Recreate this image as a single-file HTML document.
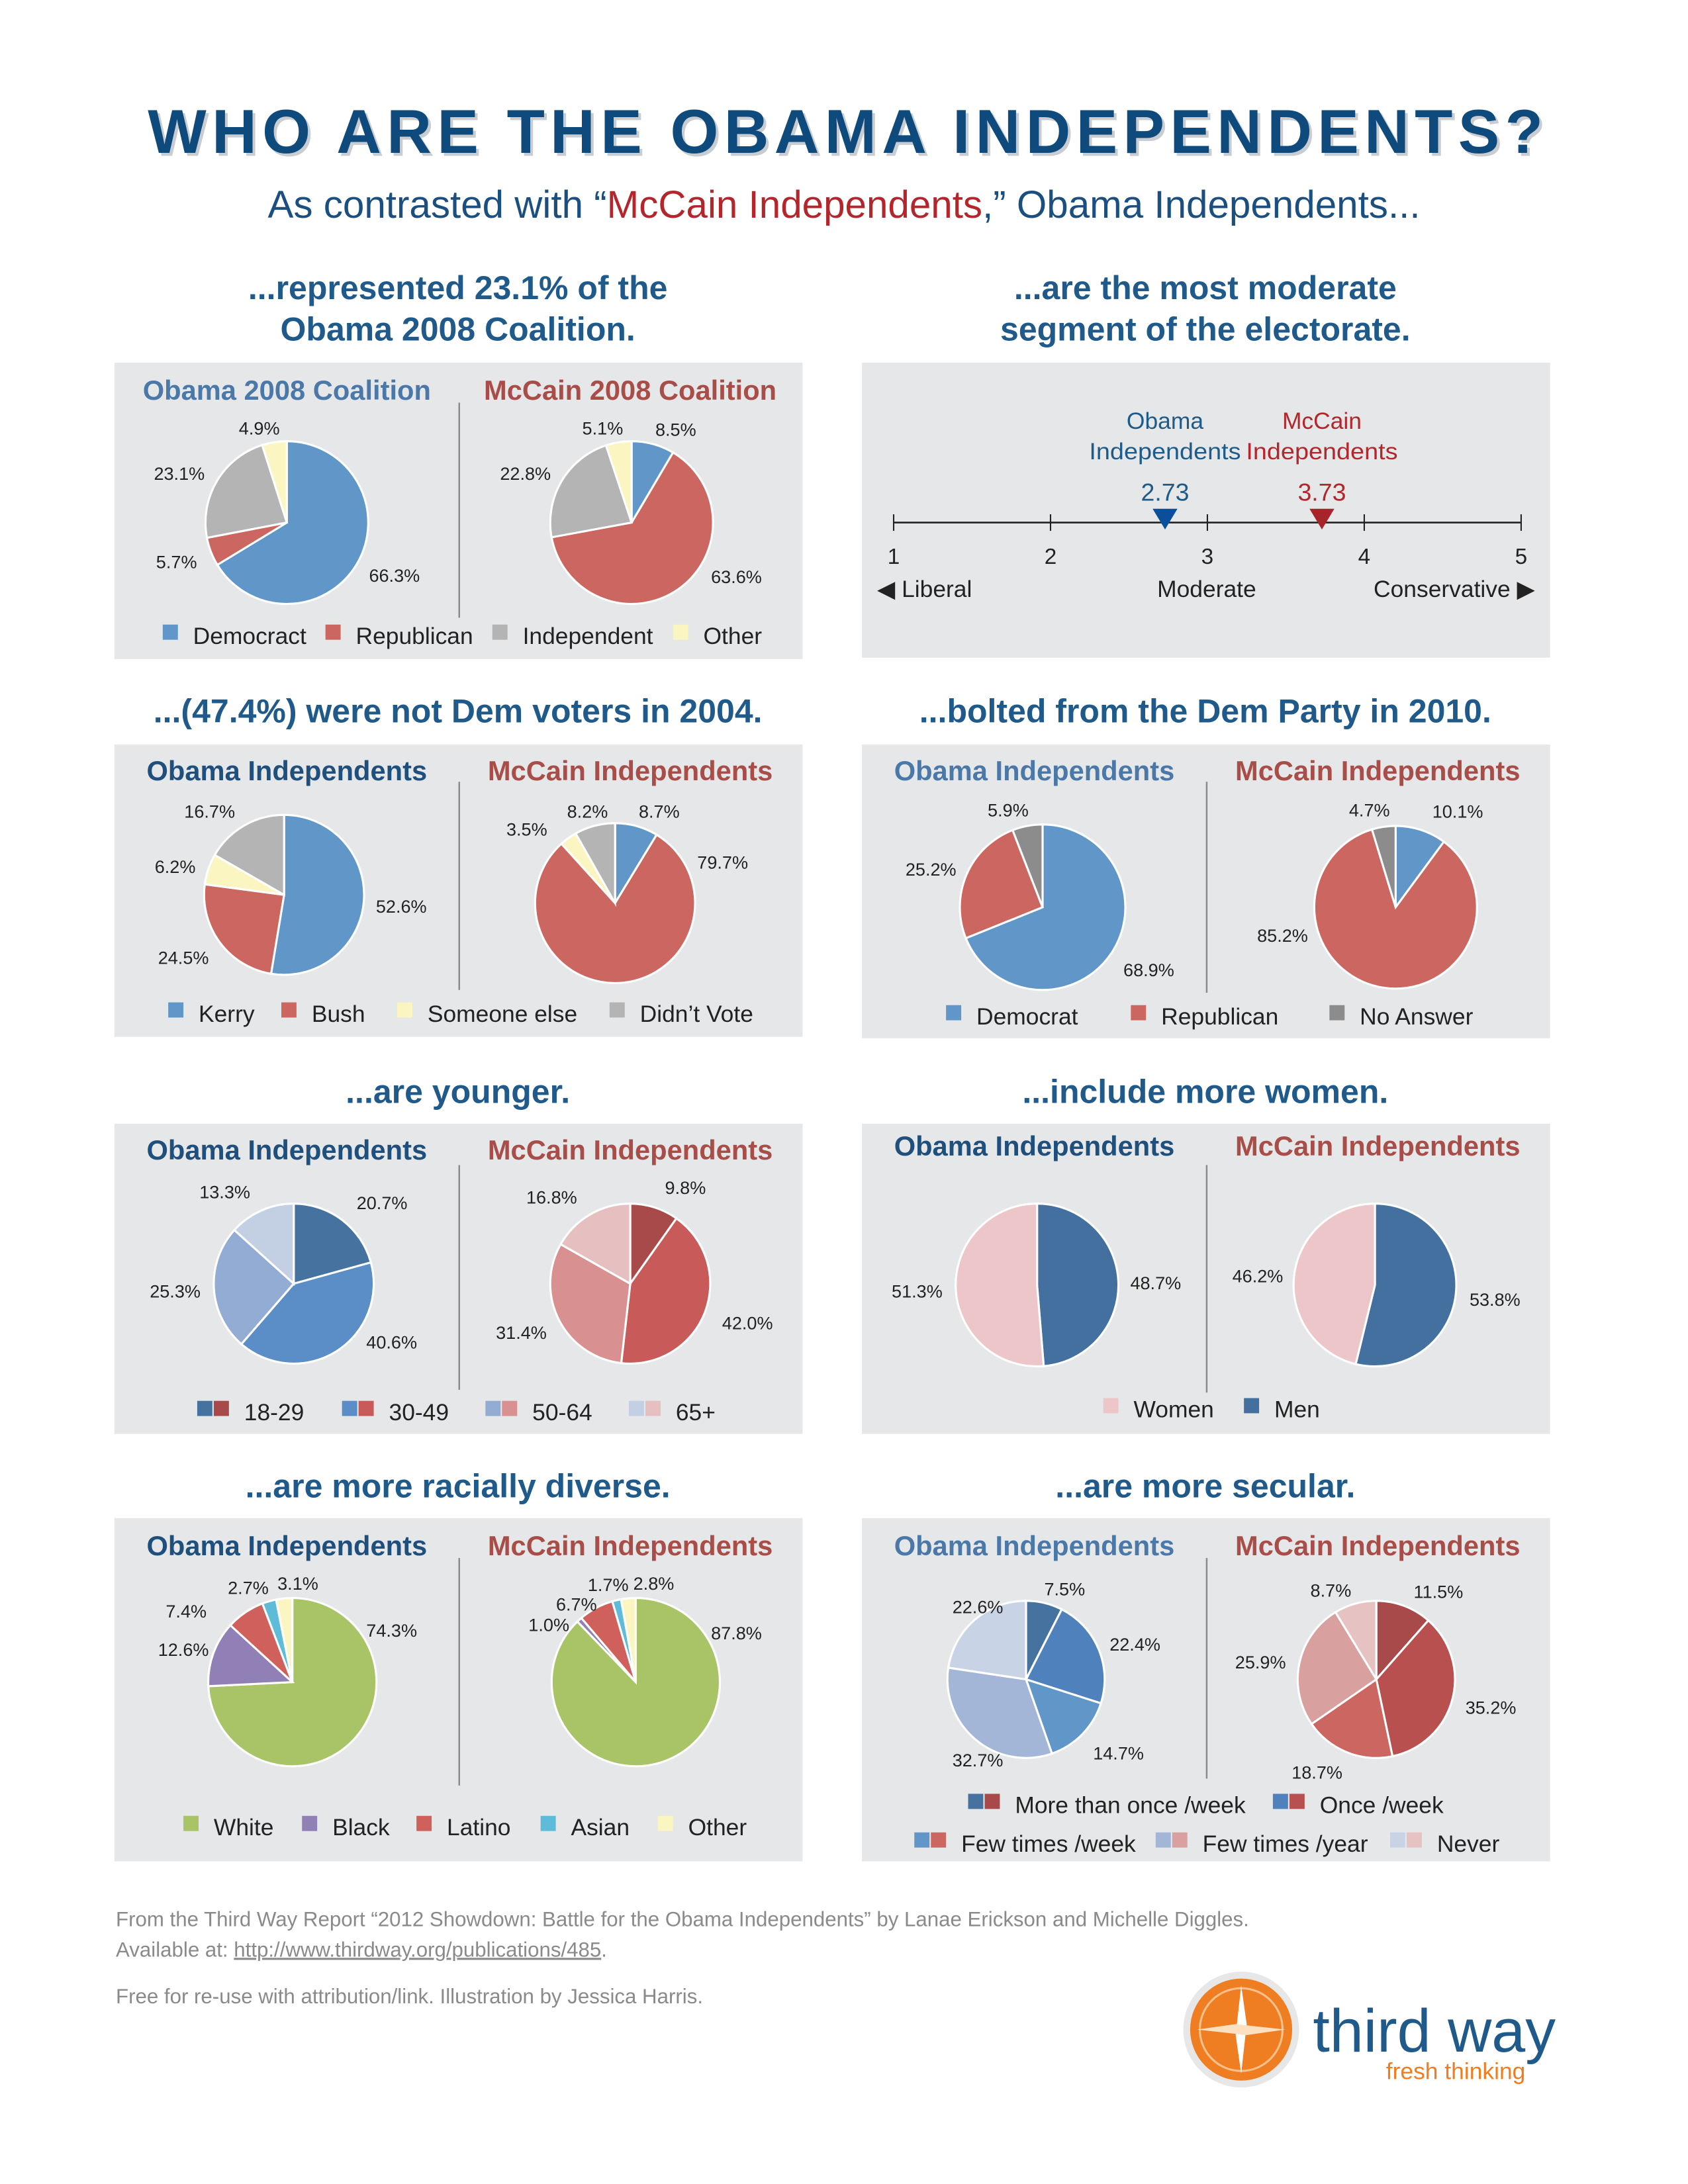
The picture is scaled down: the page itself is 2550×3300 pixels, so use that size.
<!DOCTYPE html>
<html><head><meta charset="utf-8">
<style>
html,body{margin:0;padding:0;background:#fff;}
svg{display:block;}
text{font-family:"Liberation Sans",sans-serif;}
</style></head>
<body>
<svg id="page" width="2550" height="3300" viewBox="0 0 1224 1584" xmlns="http://www.w3.org/2000/svg">
<rect width="1224" height="1584" fill="#fff"/>
<text x="617" y="113" text-anchor="middle" font-size="45" font-weight="bold" fill="#c9cdd2" letter-spacing="4">WHO ARE THE OBAMA INDEPENDENTS?</text>
<text x="615" y="111" text-anchor="middle" font-size="45" font-weight="bold" fill="#0e4a7b" letter-spacing="4">WHO ARE THE OBAMA INDEPENDENTS?</text>
<text x="612" y="158" text-anchor="middle" font-size="28" fill="#1a4f80">As contrasted with “<tspan fill="#b3262c">McCain Independents</tspan>,” Obama Independents...</text>

<g font-size="24" font-weight="bold" fill="#1f5a8a" text-anchor="middle">
<text x="332" y="217">...represented 23.1% of the</text>
<text x="332" y="247">Obama 2008 Coalition.</text>
<text x="874" y="217">...are the most moderate</text>
<text x="874" y="247">segment of the electorate.</text>
<text x="332" y="524">...(47.4%) were not Dem voters in 2004.</text>
<text x="874" y="524">...bolted from the Dem Party in 2010.</text>
<text x="332" y="800">...are younger.</text>
<text x="874" y="800">...include more women.</text>
<text x="332" y="1086">...are more racially diverse.</text>
<text x="874" y="1086">...are more secular.</text>
</g>

<g fill="#e6e7e8">
<rect x="83" y="263" width="499" height="215"/>
<rect x="625" y="263" width="499" height="214"/>
<rect x="83" y="540" width="499" height="212"/>
<rect x="625" y="540" width="499" height="213"/>
<rect x="83" y="815" width="499" height="225"/>
<rect x="625" y="815" width="499" height="225"/>
<rect x="83" y="1101" width="499" height="249"/>
<rect x="625" y="1101" width="499" height="249"/>
</g>
<g stroke="#8a8c8e" stroke-width="1.2">
<line x1="333" y1="292" x2="333" y2="448"/>
<line x1="333" y1="567" x2="333" y2="718"/>
<line x1="875" y1="567" x2="875" y2="720"/>
<line x1="333" y1="845" x2="333" y2="1008"/>
<line x1="875" y1="845" x2="875" y2="1010"/>
<line x1="333" y1="1130" x2="333" y2="1295"/>
<line x1="875" y1="1130" x2="875" y2="1290"/>
</g>

<g font-size="20" font-weight="bold" text-anchor="middle">
<text x="208" y="290" fill="#4a78a8">Obama 2008 Coalition</text>
<text x="457" y="290" fill="#a94d48">McCain 2008 Coalition</text>
<text x="208" y="566" fill="#1f4f7d">Obama Independents</text>
<text x="457" y="566" fill="#a94d48">McCain Independents</text>
<text x="750" y="566" fill="#4a78a8">Obama Independents</text>
<text x="999" y="566" fill="#a94d48">McCain Independents</text>
<text x="208" y="841" fill="#1f4f7d">Obama Independents</text>
<text x="457" y="841" fill="#a94d48">McCain Independents</text>
<text x="750" y="838" fill="#1f4f7d">Obama Independents</text>
<text x="999" y="838" fill="#a94d48">McCain Independents</text>
<text x="208" y="1128" fill="#1f4f7d">Obama Independents</text>
<text x="457" y="1128" fill="#a94d48">McCain Independents</text>
<text x="750" y="1128" fill="#4a78a8">Obama Independents</text>
<text x="999" y="1128" fill="#a94d48">McCain Independents</text>
</g>

<g id="scale"></g>
<g id="pies"></g>
<g id="legends" font-size="17" fill="#222"></g>

<g font-size="15" fill="#8a8a8a">
<text x="84" y="1397">From the Third Way Report “2012 Showdown: Battle for the Obama Independents” by Lanae Erickson and Michelle Diggles.</text>
<text x="84" y="1419">Available at: <tspan text-decoration="underline">http://www.thirdway.org/publications/485</tspan>.</text>
<text x="84" y="1453">Free for re-use with attribution/link. Illustration by Jessica Harris.</text>
</g>
<g>
<circle cx="900" cy="1472" r="42" fill="#e7e7e7"/>
<circle cx="900" cy="1472" r="37" fill="#ef7d22"/>
<circle cx="900" cy="1472" r="30" fill="none" stroke="#f9c08a" stroke-width="1.5"/>
<polygon points="900,1440 904,1468 900,1504 896,1476" fill="#fff"/>
<polygon points="868,1472 896,1468 932,1472 904,1476" fill="#fde0c0"/>
<text x="952" y="1488" font-size="44" fill="#1f5a8a">third way</text>
<text x="1005" y="1508" font-size="17" fill="#ef7d22">fresh thinking</text>
</g>

<script>
// ---------- data ----------
const coalObamaVals=[66.3,5.7,23.1,4.9];
const coalMccainVals=[8.5,63.6,22.8,5.1];
const v2004ObamaVals=[52.6,24.5,6.2,16.7];
const v2004MccainVals=[8.7,79.7,3.5,8.2];
const p2010ObamaVals=[68.9,25.2,5.9];
const p2010MccainVals=[10.1,85.2,4.7];
const ageObamaVals=[20.7,40.6,25.3,13.3];
const ageMccainVals=[9.8,42.0,31.4,16.8];
const genderObamaVals=[48.7,51.3];
const genderMccainVals=[53.8,46.2];
const raceObamaVals=[74.3,12.6,7.4,2.7,3.1];
const raceMccainVals=[87.8,1.0,6.7,1.7,2.8];
const relObamaVals=[7.5,22.4,14.7,32.7,22.6];
const relMccainVals=[11.5,35.2,18.7,25.9,8.7];
const scaleTicks=[1,2,3,4,5];
const ideologyVals=[2.73,3.73];

const NS="http://www.w3.org/2000/svg";
function mk(tag,attrs,parent){const e=document.createElementNS(NS,tag);for(const k in attrs)e.setAttribute(k,attrs[k]);parent.appendChild(e);return e;}
const pies=document.getElementById('pies');
// label layout: offsets from pie center (layout, not data)
function pie(name,cx,cy,r,vals,cols,lab){
  const g=mk('g',{},pies);
  
  
  const tot=vals.reduce((a,b)=>a+b,0);let a0=-Math.PI/2;
  vals.forEach((v,i)=>{
    const a1=a0+v/tot*2*Math.PI;
    const x0=cx+r*Math.cos(a0),y0=cy+r*Math.sin(a0),x1=cx+r*Math.cos(a1),y1=cy+r*Math.sin(a1);
    const big=(a1-a0)>Math.PI?1:0;
    let d=(vals.length&&v/tot>0.9999)?`M${cx-r},${cy}a${r},${r} 0 1 0 ${2*r},0a${r},${r} 0 1 0 ${-2*r},0Z`:`M${cx},${cy}L${x0},${y0}A${r},${r} 0 ${big} 1 ${x1},${y1}Z`;
    const p=mk('path',{d:d,fill:cols[i],stroke:'#fff','stroke-width':1.5},g);
    
    
    let lx,ly;
    if(lab&&lab[i]){lx=lab[i][0];ly=lab[i][1];}
    else{const am=(a0+a1)/2;lx=cx+(r+26)*Math.cos(am);ly=cy+(r+26)*Math.sin(am);}
    const t=mk('text',{x:lx,y:ly+5,'text-anchor':'middle','font-size':13,fill:'#222'},g);
    t.textContent=v.toFixed(1)+'%';
    
    
    a0=a1;
  });
}
const B='#6096c8',R='#cc6660',G='#b4b4b4',Y='#fbf5c2',DG='#8c8c8c';
pie('pie-coalition-obama',208,379,59,coalObamaVals,[B,R,G,Y],[[286,417],[128,407],[130,343],[188,310]]);
pie('pie-coalition-mccain',458,379,59,coalMccainVals,[B,R,G,Y],[[490,311],[534,418],[381,343],[437,310]]);
pie('pie-2004-obama',206,649,58,v2004ObamaVals,[B,R,Y,G],[[291,657],[133,694],[127,628],[152,588]]);
pie('pie-2004-mccain',446,655,58,v2004MccainVals,[B,R,Y,G],[[478,588],[524,625],[382,601],[426,588]]);
pie('pie-2010-obama',756,658,60,p2010ObamaVals,[B,R,DG],[[833,703],[675,630],[731,587]]);
pie('pie-2010-mccain',1012,658,59,p2010MccainVals,[B,R,DG],[[1057,588],[930,678],[993,587]]);
pie('pie-age-obama',213,931,58,ageObamaVals,['#45729f','#5b8ec6','#93acd4','#c3cfe3'],[[277,872],[284,973],[127,936],[163,864]]);
pie('pie-age-mccain',457,931,58,ageMccainVals,['#a84a4a','#c85a5a','#d99090','#e6c0c0'],[[497,861],[542,959],[378,966],[400,868]]);
pie('pie-gender-obama',752,932,59,genderObamaVals,['#44709f','#ecc6c8'],[[838,930],[665,936]]);
pie('pie-gender-mccain',997,932,59,genderMccainVals,['#44709f','#ecc6c8'],[[1084,942],[912,925]]);
const race=['#a8c467','#9180b6','#d0605c','#5fbcd8','#fbf5c2'];
pie('pie-race-obama',212,1220,61,raceObamaVals,race,[[284,1182],[133,1196],[135,1168],[180,1151],[216,1148]]);
pie('pie-race-mccain',461,1220,61,raceMccainVals,race,[[534,1184],[398,1178],[418,1163],[441,1149],[474,1148]]);
pie('pie-religion-obama',744,1218,57,relObamaVals,['#45729f','#4f82bd','#6096c8','#a4b6d8','#c9d3e6'],[[772,1152],[823,1192],[811,1271],[709,1276],[709,1165]]);
pie('pie-religion-mccain',998,1218,57,relMccainVals,['#a84a4a','#b95050','#cc6660','#d9a0a0','#e6c2c2'],[[1043,1154],[1081,1238],[955,1285],[914,1205],[965,1153]]);

// ---------- scale ----------
const sc=document.getElementById('scale');
const sx=v=>648+(v-1)*(1103-648)/4;
mk('line',{x1:sx(1),y1:379,x2:sx(5),y2:379,stroke:'#222','stroke-width':1.3},sc);
scaleTicks.forEach(t=>{
  const l=mk('line',{x1:sx(t),y1:373,x2:sx(t),y2:385,stroke:'#222','stroke-width':1},sc);
  
  
  const tx=mk('text',{x:sx(t),y:409,'text-anchor':'middle','font-size':16,fill:'#222'},sc);
  tx.textContent=t;
  
  
});
const mcol=['#0a4f9c','#a8242b'],tcol=['#1d5b8a','#b3262c'],nm=['Obama','McCain'];
ideologyVals.forEach((v,i)=>{
  const x=sx(v);
  const m=mk('polygon',{points:`${x-9},369 ${x+9},369 ${x},384`,fill:mcol[i]},sc);
  
  
  const t=mk('text',{x:x,y:363,'text-anchor':'middle','font-size':18,fill:tcol[i]},sc);
  t.textContent=v.toFixed(2);
  
  
  const a=mk('text',{x:x,y:311,'text-anchor':'middle','font-size':17,fill:tcol[i]},sc);
  a.textContent=nm[i];
  
  
  const b=mk('text',{x:x,y:333,'text-anchor':'middle','font-size':17,fill:tcol[i],textLength:110,lengthAdjust:'spacingAndGlyphs'},sc);
  b.textContent='Independents';
  
  
});
[['◀ Liberal',636,'start'],['Moderate',875,'middle'],['Conservative ▶',1113,'end']].forEach(d=>{
  const t=mk('text',{x:d[1],y:433,'text-anchor':d[2],'font-size':17,fill:'#222'},sc);
  t.textContent=d[0];
  
  
});

// ---------- legends ----------
const lg=document.getElementById('legends');
function leg(y,items){
  items.forEach(it=>{
    it.c.forEach((c,j)=>{mk('rect',{x:it.x+j*12,y:y-12,width:11,height:11,fill:c},lg);});
    const t=mk('text',{x:it.x+it.c.length*12+10,y:y+2},lg);
    t.textContent=it.t;
    
    
  });
}
leg(465,[{x:118,c:[B],t:'Democract'},{x:236,c:[R],t:'Republican'},{x:357,c:[G],t:'Independent'},{x:488,c:[Y],t:'Other'}]);
leg(739,[{x:122,c:[B],t:'Kerry'},{x:204,c:[R],t:'Bush'},{x:288,c:[Y],t:'Someone else'},{x:442,c:[G],t:"Didn’t Vote"}]);
leg(741,[{x:686,c:[B],t:'Democrat'},{x:820,c:[R],t:'Republican'},{x:964,c:[DG],t:'No Answer'}]);
leg(1028,[{x:143,c:['#45729f','#a84a4a'],t:'18-29'},{x:248,c:['#5b8ec6','#c85a5a'],t:'30-49'},{x:352,c:['#93acd4','#d99090'],t:'50-64'},{x:456,c:['#c3cfe3','#e6c0c0'],t:'65+'}]);
leg(1026,[{x:800,c:['#ecc6c8'],t:'Women'},{x:902,c:['#44709f'],t:'Men'}]);
leg(1329,[{x:133,c:[race[0]],t:'White'},{x:219,c:[race[1]],t:'Black'},{x:302,c:[race[2]],t:'Latino'},{x:392,c:[race[3]],t:'Asian'},{x:477,c:[race[4]],t:'Other'}]);
leg(1313,[{x:702,c:['#45729f','#a84a4a'],t:'More than once /week'},{x:923,c:['#4f82bd','#b95050'],t:'Once /week'}]);
leg(1341,[{x:663,c:['#6096c8','#cc6660'],t:'Few times /week'},{x:838,c:['#a4b6d8','#d9a0a0'],t:'Few times /year'},{x:1008,c:['#c9d3e6','#e6c2c2'],t:'Never'}]);
</script>
</svg>
</body></html>
